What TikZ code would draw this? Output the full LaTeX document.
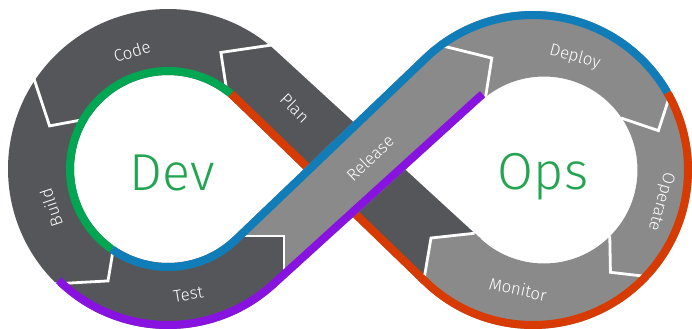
\documentclass[tikz,border=0pt]{standalone}
\usepackage{fontspec}
\setmainfont{Fira Sans}
\newfontfamily\thinfont{Fira Sans Light}
\usetikzlibrary{calc}
\definecolor{devgray}{RGB}{85,86,90}
\definecolor{opsgray}{RGB}{138,138,138}
\definecolor{devgreen}{RGB}{0,166,81}
\definecolor{devblue}{RGB}{17,125,184}
\definecolor{opsred}{RGB}{216,59,1}
\definecolor{devpurple}{RGB}{136,18,224}
\definecolor{wordgreen}{RGB}{34,164,80}

\begin{document}
\begin{tikzpicture}[x=0.5mm, y=-0.5mm,
        chevron/.style={white, line width=1.4mm},
        strip/.style={line width=4mm},
        stage/.style={text=white, inner sep=0pt, font=\thinfont\fontsize{24}{24}\selectfont},
        bigword/.style={text=wordgreen, inner sep=0pt, font=\thinfont\fontsize{74}{74}\selectfont}]
        \useasboundingbox (0,0) rectangle (692,328);
        \fill[white] (0,0) rectangle (692,328);

        % Merkezler
        \coordinate (L) at (168,169);
        \coordinate (Ri) at (544,170);
        \coordinate (Ro) at (533,170);

        % Teğet noktaları
        \coordinate (pA) at ($(L)+(312.55:160)$);
        \coordinate (pB) at ($(Ri)+(132.55:93.5)$);
        \coordinate (pC) at ($(Ro)+(134.04:159)$);
        \coordinate (pD) at ($(L)+(314.04:94)$);
        \coordinate (rA) at ($(L)+(46.26:94)$);
        \coordinate (rB) at ($(Ro)+(226.28:159)$);
        \coordinate (rC) at ($(Ri)+(227.75:93.5)$);
        \coordinate (rD) at ($(L)+(47.75:160)$);
        \coordinate (mp) at ($(pB)!0.03!(pA)$);
        \coordinate (mtip) at (431,238);
        \coordinate (tt) at (284,236);
        \coordinate (tb) at (284,279.8);

        % Sol halka, Plan şeridi ve Test ucu
        \fill[devgray] (pB) -- (pA) arc[start angle=312.55, end angle=47.75, radius=160]
            -- (tb) -- (tt) -- (rA) arc[start angle=46.26, end angle=314.04, radius=94]
            -- (pC) -- cycle;

        % Sol halkadaki çizgiler
        \draw[chevron] ($(L)+(309.7:161)$) -- ($(L)+(294.4:128)$) -- ($(L)+(310:93)$);
        \draw[chevron] ($(L)+(213.8:161)$) -- ($(L)+(200:126)$) -- ($(L)+(213:93)$);
        \draw[chevron] ($(L)+(134.5:161)$) -- ($(L)+(118.2:127)$) -- ($(L)+(125.5:93)$);

        % Yeşil ve kırmızı kenar (Plan altında)
        \draw[strip, devgreen] ($(L)+(310:98)$) arc[start angle=310, end angle=125, radius=98];
        \draw[strip, opsred] ($(L)+(310:98)$) arc[start angle=310, end angle=314.04, radius=98]
            -- ($(Ro)+(134.04:155)$);

        % Sağ halka, Release şeridi ve Monitor ucu
        \fill[opsgray] (rA) -- (rB) arc[start angle=226.28, end angle=493.5, radius=159]
            -- (mtip) -- (mp) -- (pB) arc[start angle=492.55, end angle=227.75, radius=93.5]
            -- (tb) -- (tt) -- cycle;

        % Sağ halkadaki çizgiler
        \draw[chevron] ($(Ro)+(330:160)$) -- ($(Ri)+(341:121)$) -- ($(Ri)+(326:93)$);
        \draw[chevron] ($(Ri)+(45:93)$) -- ($(Ri)+(57:122)$) -- ($(Ro)+(42:160)$);
        \draw[chevron] (mp) -- (mtip) -- ($(Ro)+(133.5:160)$);
        \draw[chevron] (233.5,236) -- (tt) -- (tb);
        \draw[chevron] ($(Ro)+(232:160)$) -- ($(Ri)+(245:123.5)$) -- ($(Ri)+(231:93)$);

        % Renkli kenarlar (üstte)
        \draw[strip, opsred] ($(Ro)+(134.04:155)+(-4.3,-4.2)$) -- ($(Ro)+(134.04:155)$)
            arc[start angle=134.04, end angle=-30, radius=155];
        \draw[strip, devblue] ($(L)+(125:98)$) arc[start angle=125, end angle=46.26, radius=98]
            -- ($(Ro)+(226.28:155)$) arc[start angle=226.28, end angle=330, radius=155];
        \draw[strip, devpurple] ($(L)+(134.5:156)$) arc[start angle=134.5, end angle=47.75, radius=156]
            -- ($(Ri)+(227.75:97.5)$) arc[start angle=227.75, end angle=231, radius=97.5];

        % Yazılar
        \node[stage, rotate=17] (code) at ($(L)+(253:123)$) {Code};
        \node[stage, rotate=108.4] (build) at ($(L)+(161.6:123)$) {Build};
        \node[stage, rotate=9.2] (test) at ($(L)+(80.8:127)$) {Test};
        \node[stage, rotate=-45] (plan) at (295,108) {Plan};
        \node[stage, rotate=43.7] (release) at (370,158) {Release};
        \node[stage, rotate=-15.3] (deploy) at ($(Ri)+(285.3:117)$) {Deploy};
        \node[stage, rotate=-105.3] (operate) at ($(Ri)+(15.3:121)$) {Operate};
        \node[stage, rotate=-12.3] (monitor) at ($(Ri)+(102.3:122)$) {Monitor};
        \node[bigword] (dev) at (172,173) {Dev};
        \node[bigword] (ops) at (543,177) {Ops};
    \end{tikzpicture}
\end{document}
